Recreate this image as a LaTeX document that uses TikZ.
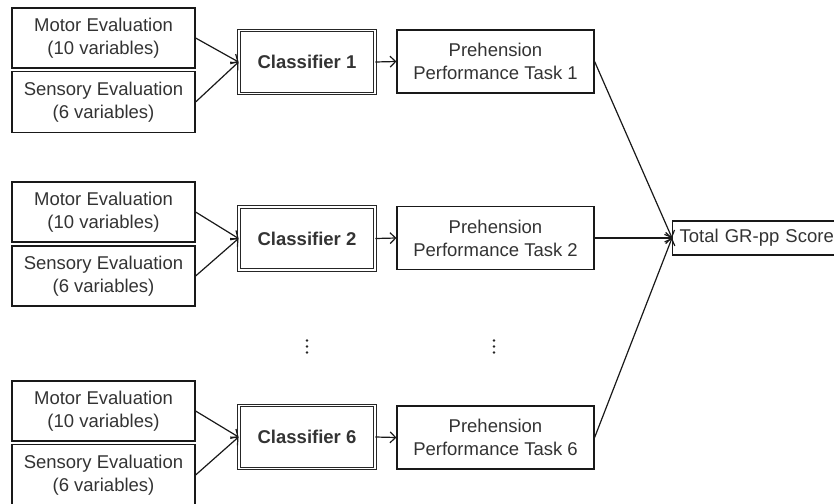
\documentclass[tikz,border=0pt]{standalone}
\usepackage{fontspec}
\setmainfont{Liberation Sans}
\usetikzlibrary{arrows.meta}
\begin{document}
\begin{tikzpicture}[x=1pt,y=-1pt,
  every node/.style={font=\fontsize{18.5}{23}\selectfont, text=black!80},
  evalbox/.style={draw=black!90, line width=1.2pt, rectangle, minimum width=183pt, minimum height=60pt, inner sep=0pt, align=center},
  clsbox/.style={draw=black!85, line width=0.9pt, double=white, double distance=1.6pt, rectangle, minimum width=136pt, minimum height=63pt, inner sep=0pt, font=\fontsize{18.5}{23}\selectfont\bfseries},
  taskbox/.style={draw=black!90, line width=1.2pt, rectangle, minimum width=197pt, minimum height=63pt, inner sep=0pt, align=center},
  conn/.style={draw=black!90, line width=1.2pt, -{Straight Barb[length=5.5pt,width=11pt]}},
  link/.style={draw=black!90, line width=1.2pt, -{Straight Barb[length=5.5pt,width=11pt]}}
]
\useasboundingbox (0,0) rectangle (834,503);
\clip (0,0) rectangle (834,503);

% group 1
\node[evalbox] (m1) at (103.5,38) {Motor Evaluation\\(10 variables)};
\node[evalbox, minimum height=61pt] (s1) at (103.5,102) {Sensory Evaluation\\(6 variables)};
\node[clsbox] (c1) at (307,62) {Classifier 1};
\node[taskbox] (p1) at (495.5,61.5) {Prehension\\Performance Task 1};

% group 2
\node[evalbox] (m2) at (103.5,212) {Motor Evaluation\\(10 variables)};
\node[evalbox] (s2) at (103.5,276) {Sensory Evaluation\\(6 variables)};
\node[clsbox] (c2) at (307,238.5) {Classifier 2};
\node[taskbox] (p2) at (495.5,238) {Prehension\\Performance Task 2};

% group 3
\node[evalbox] (m3) at (103.5,411) {Motor Evaluation\\(10 variables)};
\node[evalbox, minimum height=61pt] (s3) at (103.5,475) {Sensory Evaluation\\(6 variables)};
\node[clsbox] (c3) at (307,437) {Classifier 6};
\node[taskbox] (p3) at (495.5,437.5) {Prehension\\Performance Task 6};

% total
\node[draw=black!90, line width=1.2pt, rectangle, anchor=west, minimum height=34pt, text width=166pt, inner xsep=7pt, inner ysep=0pt, align=left] (tot) at (672,238) {Total GR-pp Score};

% connectors
\foreach \g in {1,2,3}{
  \draw[conn] (m\g.east) -- (c\g.west);
  \draw[conn] (s\g.east) -- (c\g.west);
  \draw[conn] (c\g.east) -- (p\g.west);
  \draw[link] (p\g.east) -- (tot.west);
}

% vertical ellipses
\foreach \x in {307,494}{
  \fill[black!85] (\x,340.5) circle (1.4pt);
  \fill[black!85] (\x,346.5) circle (1.4pt);
  \fill[black!85] (\x,352.5) circle (1.4pt);
}
\end{tikzpicture}
\end{document}
